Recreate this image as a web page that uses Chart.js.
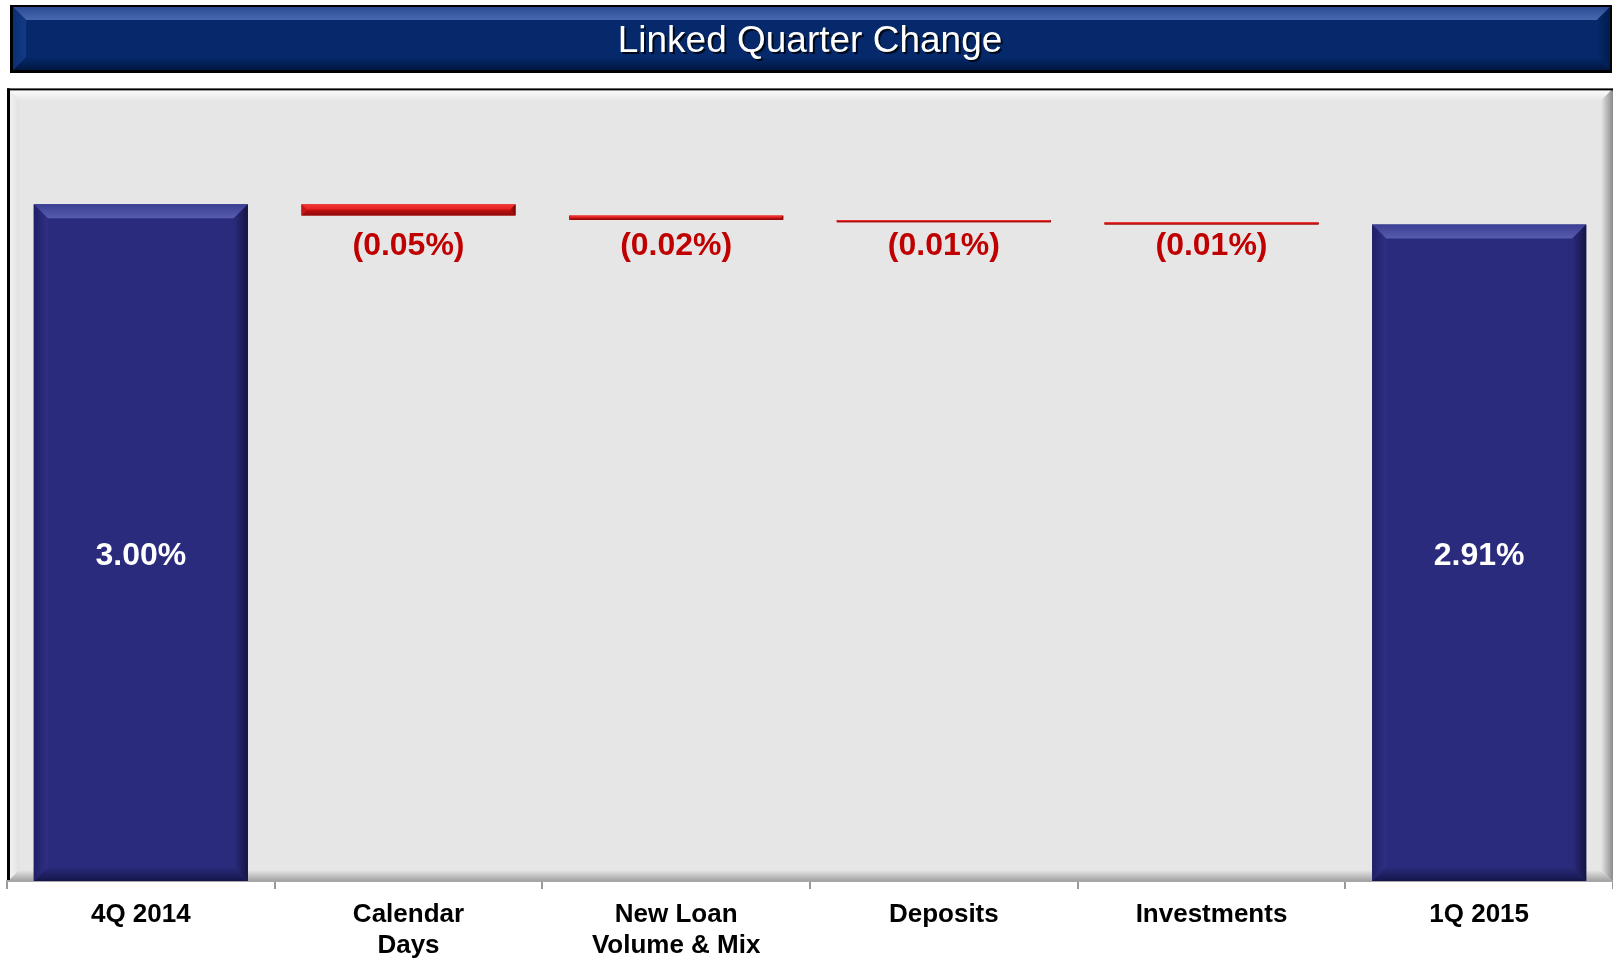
<!DOCTYPE html>
<html>
<head>
<meta charset="utf-8">
<title>Linked Quarter Change</title>
<script src="https://cdn.jsdelivr.net/npm/chart.js@4.4.1/dist/chart.umd.min.js"></script>
<style>
  html, body { margin: 0; padding: 0; background: #fff; overflow: hidden; }
  #wrap { width: 1613px; height: 960px; position: relative; }
</style>
</head>
<body>
<div id="wrap"><canvas id="lqChart"></canvas></div>
<script>
// chart data
const categories = [['4Q 2014'], ['Calendar', 'Days'], ['New Loan', 'Volume & Mix'], ['Deposits'], ['Investments'], ['1Q 2015']];
const startTotal = 3.00;
const changes = [-0.05, -0.02, -0.01, -0.01];
const endTotal = 2.91;
const yMin = 0;
const yMax = 3.5;

const FONT = "'Liberation Sans', Arial, Helvetica, sans-serif";
const TITLE_PAD_TOP = 20;
const TITLE_SIZE = 37;

// floating bars: totals from zero, changes between running levels
function buildRanges() {
    const ranges = [[0, startTotal]];
    let level = startTotal;
    changes.forEach(c => {
        const next = Math.round((level + c) * 100) / 100;
        ranges.push([Math.min(level, next), Math.max(level, next)]);
        level = next;
    });
    ranges.push([0, endTotal]);
    return ranges;
}

function isTotal(i) {
    return i === 0 || i === categories.length - 1;
}

function labelText(i) {
    if (i === 0) return startTotal.toFixed(2) + '%';
    if (i === categories.length - 1) return endTotal.toFixed(2) + '%';
    const v = changes[i - 1];
    return v < 0 ? '(' + Math.abs(v).toFixed(2) + '%)' : v.toFixed(2) + '%';
}

// four gradient trapezoids round a rectangle
function drawBevel(ctx, x0, y0, x1, y1, b, c) {
    const bb = Math.min(b, (y1 - y0) / 2, (x1 - x0) / 2);
    let g;

    g = ctx.createLinearGradient(0, y0, 0, y0 + bb);
    g.addColorStop(0, c.top[0]); g.addColorStop(1, c.top[1]);
    ctx.fillStyle = g;
    ctx.beginPath();
    ctx.moveTo(x0, y0); ctx.lineTo(x1, y0); ctx.lineTo(x1 - bb, y0 + bb); ctx.lineTo(x0 + bb, y0 + bb);
    ctx.closePath(); ctx.fill();

    g = ctx.createLinearGradient(0, y1, 0, y1 - bb);
    g.addColorStop(0, c.bottom[0]); g.addColorStop(1, c.bottom[1]);
    ctx.fillStyle = g;
    ctx.beginPath();
    ctx.moveTo(x0, y1); ctx.lineTo(x1, y1); ctx.lineTo(x1 - bb, y1 - bb); ctx.lineTo(x0 + bb, y1 - bb);
    ctx.closePath(); ctx.fill();

    g = ctx.createLinearGradient(x0, 0, x0 + bb, 0);
    g.addColorStop(0, c.left[0]); g.addColorStop(1, c.left[1]);
    ctx.fillStyle = g;
    ctx.beginPath();
    ctx.moveTo(x0, y0); ctx.lineTo(x0 + bb, y0 + bb); ctx.lineTo(x0 + bb, y1 - bb); ctx.lineTo(x0, y1);
    ctx.closePath(); ctx.fill();

    g = ctx.createLinearGradient(x1, 0, x1 - bb, 0);
    g.addColorStop(0, c.right[0]); g.addColorStop(1, c.right[1]);
    ctx.fillStyle = g;
    ctx.beginPath();
    ctx.moveTo(x1, y0); ctx.lineTo(x1 - bb, y0 + bb); ctx.lineTo(x1 - bb, y1 - bb); ctx.lineTo(x1, y1);
    ctx.closePath(); ctx.fill();
}

const navyBevel = {
    top: ['#3b3f93', '#575cae'],
    bottom: ['#15154a', '#2b2b7d'],
    left: ['#1f1f66', '#2f3084'],
    right: ['#141444', '#2b2b7d']
};
const redBevel = {
    top: ['#f23a3a', '#e41e1e'],
    bottom: ['#8e0a0a', '#c01010'],
    left: ['#c01414', '#d81818'],
    right: ['#6e0808', '#c01010']
};

// title bar and plot panel behind everything
const backdropPlugin = {
    id: 'backdrop',
    beforeDraw(chart) {
        const ctx = chart.ctx;
        const area = chart.chartArea;
        ctx.save();

        // title bar
        const tx0 = 10, tx1 = 1612, ty0 = 5, ty1 = 73;
        ctx.fillStyle = '#000';
        ctx.fillRect(tx0, ty0, tx1 - tx0, ty1 - ty0);
        const ix0 = tx0 + 3, ix1 = tx1 - 2, iy0 = ty0 + 2, iy1 = ty1 - 3;
        ctx.fillStyle = '#05296b';
        ctx.fillRect(ix0, iy0, ix1 - ix0, iy1 - iy0);
        drawBevel(ctx, ix0, iy0, ix1, iy1, 13, {
            top: ['#2b4c92', '#4769b0'],
            bottom: ['#021641', '#05296b'],
            left: ['#0b2f74', '#123a84'],
            right: ['#021c4d', '#05296b']
        });

        // title shadow
        const tb = chart.titleBlock;
        const cx = (tb.left + tb.right) / 2;
        const cy = tb.top + TITLE_PAD_TOP + TITLE_SIZE * 1.2 / 2;
        ctx.font = TITLE_SIZE + 'px ' + FONT;
        ctx.textAlign = 'center';
        ctx.textBaseline = 'middle';
        ctx.fillStyle = 'rgba(0,0,0,0.75)';
        ctx.fillText(chart.options.plugins.title.text, cx + 2, cy + 2);

        // plot panel
        const px0 = area.left, px1 = chart.width, py0 = area.top - 3, py1 = area.bottom + 1;
        ctx.fillStyle = '#e6e6e6';
        ctx.fillRect(px0, py0, px1 - px0, py1 - py0);
        drawBevel(ctx, px0, py0, px1, py1, 12, {
            top: ['#ffffff', '#e6e6e6'],
            bottom: ['#9c9c9c', '#e6e6e6'],
            left: ['#f6f6f6', '#e2e2e2'],
            right: ['#8a8a8a', '#e6e6e6']
        });
        ctx.fillStyle = '#000';
        ctx.fillRect(px0, py0, 3, py1 - py0);
        ctx.fillRect(px0, py0, px1 - px0, 2);

        ctx.restore();
    }
};

// bevels and value labels on the bars
const barDecorPlugin = {
    id: 'barDecor',
    afterDatasetsDraw(chart) {
        const ctx = chart.ctx;
        const meta = chart.getDatasetMeta(0);
        const yScale = chart.scales.y;
        ctx.save();

        meta.data.forEach((bar, i) => {
            const x0 = bar.x - bar.width / 2, x1 = bar.x + bar.width / 2;
            const y0 = Math.min(bar.y, bar.base), y1 = Math.max(bar.y, bar.base);
            drawBevel(ctx, x0, y0, x1, y1, 14, isTotal(i) ? navyBevel : redBevel);
        });

        ctx.font = 'bold 32px ' + FONT;
        ctx.textAlign = 'center';
        ctx.textBaseline = 'middle';
        meta.data.forEach((bar, i) => {
            if (isTotal(i)) {
                ctx.fillStyle = '#ffffff';
                ctx.fillText(labelText(i), bar.x, yScale.getPixelForValue(Math.min(startTotal, endTotal) / 2) + 3);
            } else {
                ctx.fillStyle = '#c00000';
                ctx.fillText(labelText(i), bar.x, yScale.getPixelForValue(endTotal) + 22);
            }
        });

        ctx.restore();
    }
};

let lqChart;

window.addEventListener('DOMContentLoaded', function() {
    const ctx = document.getElementById('lqChart').getContext('2d');
    const ranges = buildRanges();

    lqChart = new Chart(ctx, {
        type: 'bar',
        data: {
            labels: categories,
            datasets: [{
                data: ranges,
                backgroundColor: ranges.map((r, i) => isTotal(i) ? '#2b2b7d' : '#cf1414'),
                borderWidth: 0,
                borderSkipped: false,
                barPercentage: 0.8,
                categoryPercentage: 1.0
            }]
        },
        options: {
            responsive: true,
            maintainAspectRatio: false,
            animation: false,
            layout: {
                padding: { left: 7, right: 0, top: 0, bottom: 0 }
            },
            scales: {
                x: {
                    afterFit(scale) {
                        scale.height = 79;
                    },
                    grid: {
                        offset: true,
                        drawOnChartArea: false,
                        drawTicks: true,
                        tickLength: 8,
                        color: '#9a9a9a',
                        lineWidth: 2
                    },
                    border: { display: true, color: '#a6a6a6', width: 2 },
                    ticks: {
                        color: '#000',
                        autoSkip: false,
                        maxRotation: 0,
                        padding: 10,
                        font: { family: FONT, size: 26, weight: 'bold', lineHeight: 1.19 }
                    }
                },
                y: {
                    display: false,
                    min: yMin,
                    max: yMax
                }
            },
            plugins: {
                legend: { display: false },
                tooltip: { enabled: false },
                title: {
                    display: true,
                    text: 'Linked Quarter Change',
                    color: '#ffffff',
                    font: { family: FONT, size: TITLE_SIZE, weight: 'normal', lineHeight: 1.2 },
                    padding: { top: TITLE_PAD_TOP, bottom: 27 }
                }
            }
        },
        plugins: [backdropPlugin, barDecorPlugin]
    });
});
</script>
</body>
</html>
